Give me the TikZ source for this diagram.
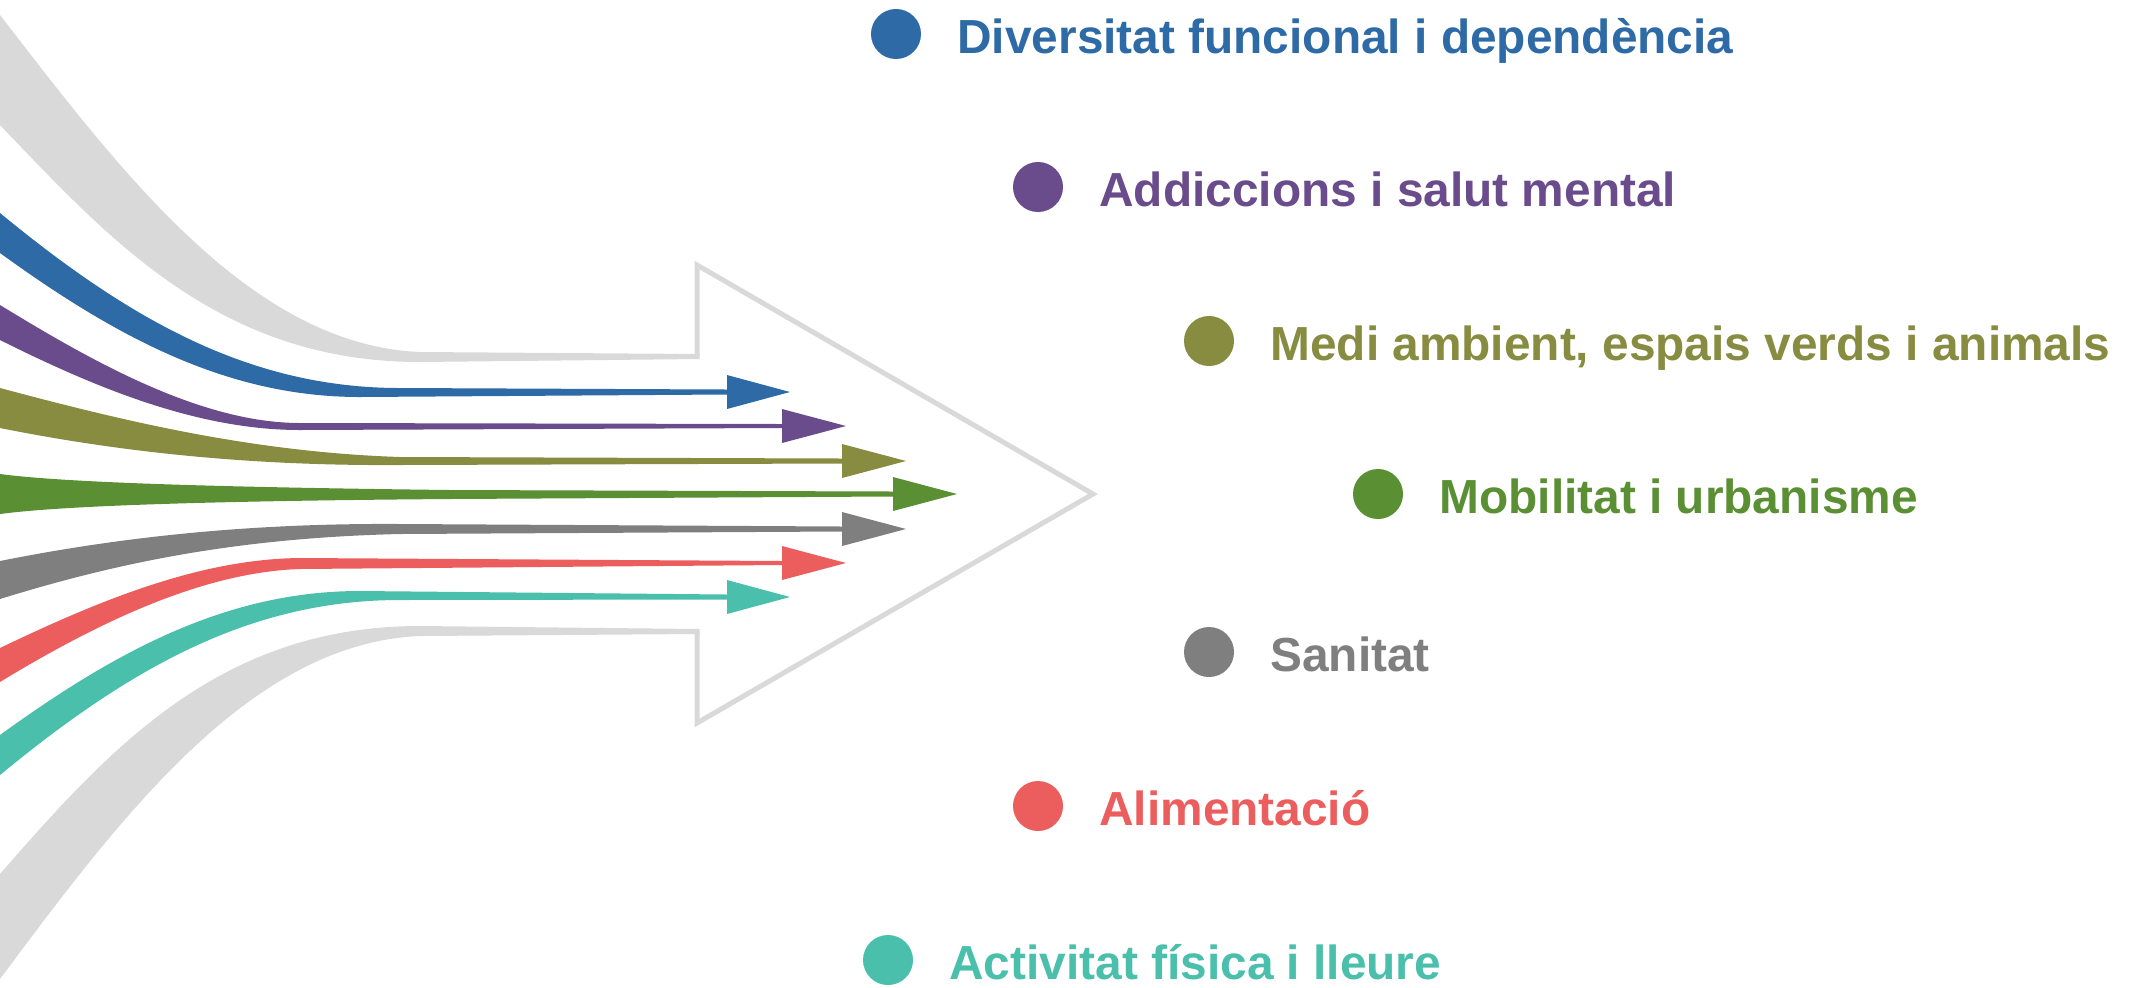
\documentclass[tikz,border=0pt]{standalone}
\usepackage{fontspec}
\setmainfont{Liberation Sans}
\usetikzlibrary{positioning}
\definecolor{cblue}{HTML}{2D6AA6}
\definecolor{cpurple}{HTML}{6A4C8C}
\definecolor{colive}{HTML}{878C40}
\definecolor{cgreen}{HTML}{5A8F33}
\definecolor{cgray}{HTML}{7F7F7F}
\definecolor{cred}{HTML}{EC5E5E}
\definecolor{cteal}{HTML}{4ABFAB}
\definecolor{clight}{HTML}{D9D9D9}
\tikzset{
    dot/.style={circle,inner sep=0pt,minimum size=0.5cm},
    topic/.style={font=\fontsize{13.6pt}{16pt}\selectfont\bfseries,inner sep=0pt,anchor=base west},
    outline/.style={draw=clight,line width=0.05cm,line join=miter},
}

\begin{document}
\begin{tikzpicture}[x=0.01cm,y=-0.01cm]
\useasboundingbox (0,0) rectangle (2139,987);
% grey funnel and big arrow
\fill[clight] (0,15) .. controls (120,170) and (250,345) .. (420,352) -- (699.5,354) -- (699.5,359) -- (420,362) .. controls (220,362) and (110,240) .. (0,125) -- cycle;
\fill[clight] (0,979) .. controls (120,818) and (250,643) .. (420,636) -- (699.5,634) -- (699.5,629) -- (420,626) .. controls (220,626) and (110,748) .. (0,874) -- cycle;
\draw[outline] (697,356.5) -- (697,265) -- (1093,494) -- (697,723) -- (697,631.5);
% coloured strands
\fill[cblue] (0,213) .. controls (130,320) and (250,388) .. (400,388) -- (727,389.5) -- (727,375) -- (790,392) -- (727,409) -- (727,394.5) -- (360,397) .. controls (230,397) and (120,340) .. (0,253) -- cycle;
\fill[cpurple] (0,305) .. controls (90,360) and (200,423) .. (300,423) -- (782,424) -- (782,409) -- (846,426) -- (782,443) -- (782,428) -- (300,430) .. controls (200,430) and (100,390) .. (0,340) -- cycle;
\fill[colive] (0,388) .. controls (120,420) and (250,452) .. (400,457) -- (842,458.5) -- (842,444) -- (906,461) -- (842,478) -- (842,463.5) -- (400,465) .. controls (250,466) and (120,452) .. (0,428) -- cycle;
\fill[cgreen] (0,474) .. controls (60,482) and (200,487) .. (450,490) -- (893,491.5) -- (893,477) -- (957,494) -- (893,511) -- (893,496.5) -- (450,499) .. controls (200,501) and (60,506) .. (0,514) -- cycle;
\fill[cgray] (0,561) .. controls (120,537) and (250,523) .. (400,524) -- (842,526.5) -- (842,512) -- (906,529) -- (842,546) -- (842,531.5) -- (400,534) .. controls (230,538) and (110,565) .. (0,599) -- cycle;
\fill[cred] (0,648) .. controls (100,600) and (200,559) .. (300,558) -- (782,561) -- (782,546) -- (846,563) -- (782,580) -- (782,565) -- (300,569) .. controls (210,572) and (110,615) .. (0,682) -- cycle;
\fill[cteal] (0,735) .. controls (120,648) and (230,591) .. (360,591) -- (727,594.5) -- (727,580) -- (790,597) -- (727,614) -- (727,599.5) -- (400,600) .. controls (250,600) and (130,668) .. (0,775) -- cycle;
% legend
\foreach \i/\px/\py/\col/\txt in {
    1/896/34/cblue/{Diversitat funcional i dependència},
    2/1038/187/cpurple/{Addiccions i salut mental},
    3/1209/341/colive/{Medi ambient, espais verds i animals},
    4/1378/494/cgreen/{Mobilitat i urbanisme},
    5/1209/652/cgray/{Sanitat},
    6/1038/806/cred/{Alimentació},
    7/888/960/cteal/{Activitat física i lleure}}{
    \node[dot,fill=\col] (d\i) at (\px,\py) {};
    \node[topic,text=\col] (t\i) at ([shift={(35,19)}]d\i.east) {\txt};
}
\end{tikzpicture}
\end{document}
